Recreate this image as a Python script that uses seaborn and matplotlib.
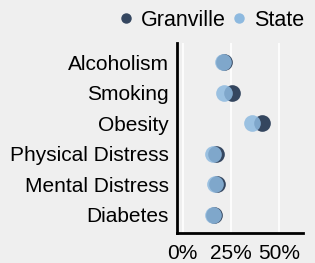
import matplotlib
matplotlib.use('Agg')
import matplotlib.pyplot as plt
from matplotlib.ticker import PercentFormatter
from matplotlib.lines import Line2D
import seaborn as sns
import pandas as pd

BG_COLOR = '#efefef'
DARK = '#34465f'
LIGHT = '#8db9df'

measures = ['Alcoholism', 'Smoking', 'Obesity', 'Physical Distress',
            'Mental Distress', 'Diabetes']
granville = [21.5, 25.5, 41.0, 17.0, 18.0, 16.0]
state = [21.0, 21.5, 36.0, 15.5, 16.5, 15.5]

df = pd.DataFrame({'measure': measures, 'Granville': granville, 'State': state})

sns.set_theme(style='white')
plt.rcParams['font.family'] = ['Liberation Sans', 'DejaVu Sans']
plt.rcParams['text.color'] = 'black'

fig = plt.figure(figsize=(3.15, 2.63), dpi=100)
fig.patch.set_facecolor(BG_COLOR)
ax = fig.add_axes([0.562, 0.114, 0.40, 0.723])
ax.set_facecolor(BG_COLOR)

sns.stripplot(data=df, x='Granville', y='measure', order=measures, color=DARK,
              size=12, jitter=False, linewidth=0, ax=ax, zorder=3)
sns.stripplot(data=df, x='State', y='measure', order=measures, color=LIGHT,
              size=12, jitter=False, linewidth=0, alpha=0.85, ax=ax, zorder=4)

ax.set_xlim(-3, 62.5)
ax.set_ylim(5.6, -0.63)
ax.set_xticks([0, 25, 50])
ax.xaxis.set_major_formatter(PercentFormatter(decimals=0))
ax.grid(axis='x', color='white', linewidth=1.2)
ax.set_axisbelow(True)
ax.set_xlabel('')
ax.set_ylabel('')
for side in ['top', 'right']:
    ax.spines[side].set_visible(False)
for side in ['left', 'bottom']:
    ax.spines[side].set_color('black')
    ax.spines[side].set_linewidth(2)
ax.tick_params(axis='y', length=0, labelsize=15, colors='black', pad=6)
ax.tick_params(axis='x', length=0, labelsize=15, colors='black', pad=8)

handles = [Line2D([], [], marker='o', linestyle='', color=DARK, markersize=6.5),
           Line2D([], [], marker='o', linestyle='', color=LIGHT, markersize=6.5)]
fig.legend(handles, ['Granville', 'State'], loc='center', bbox_to_anchor=(0.675, 0.922),
           ncol=2, frameon=False, fontsize=15.5, handletextpad=0.45,
           columnspacing=0.35, handlelength=0.5, borderpad=0, borderaxespad=0,
           labelcolor='black')

fig.savefig('out.png', dpi=100, facecolor=BG_COLOR)
